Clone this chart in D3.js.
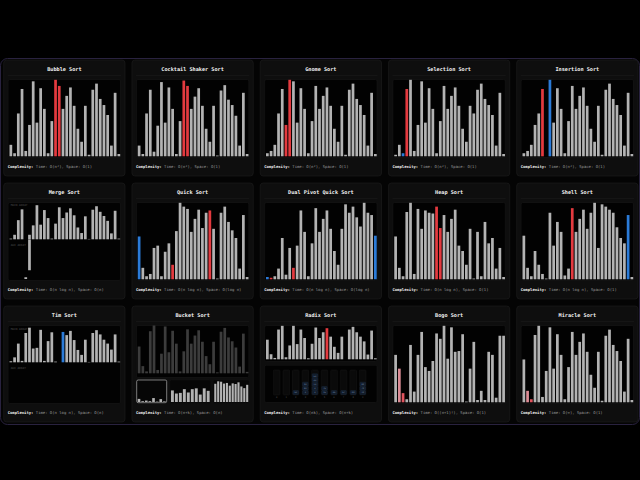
<!DOCTYPE html>
<html><head><meta charset="utf-8">
<script src="https://cdn.jsdelivr.net/npm/d3@7"></script>
<style>body{margin:0;background:#000;overflow:hidden}</style>
</head><body>
<svg id="c" width="640" height="480"></svg>
<script>
// ---------- DATA ----------
const algorithms = ["Bubble Sort","Cocktail Shaker Sort","Gnome Sort","Selection Sort","Insertion Sort",
  "Merge Sort","Quick Sort","Dual Pivot Quick Sort","Heap Sort","Shell Sort",
  "Tim Sort","Bucket Sort","Radix Sort","Bogo Sort","Miracle Sort"];
const complexities = ["Time: O(n²), Space: O(1)","Time: O(n²), Space: O(1)","Time: O(n²), Space: O(1)",
  "Time: O(n²), Space: O(1)","Time: O(n²), Space: O(1)",
  "Time: O(n log n), Space: O(n)","Time: O(n log n), Space: O(log n)","Time: O(n log n), Space: O(log n)",
  "Time: O(n log n), Space: O(1)","Time: O(n log n), Space: O(1)",
  "Time: O(n log n), Space: O(n)","Time: O(n+k), Space: O(n)","Time: O(nk), Space: O(n+k)",
  "Time: O((n+1)!), Space: O(1)","Time: O(∞), Space: O(1)"];

const bubbleValues    = [15,4,56,88,7,41,98,44,89,62,4,46,100,92,62,79,90,66,36,19,66,2,87,95,75,67,54,14,83,3];
const bubbleRed = [12,13];
const cocktailValues  = [14,3,56,87,6,40,97,44,90,62,3,46,99,92,62,78,89,66,36,19,66,1,86,93,74,67,53,14,83,3];
const cocktailRed = [12,13];
const gnomeValues     = [4,7,15,56,88,41,100,98,44,89,62,4,46,92,62,79,90,66,36,19,66,2,87,95,75,67,54,14,83,3];
const gnomeRed = [5,6];
const selectionValues = [2,15,4,88,100,7,41,98,44,89,62,4,46,92,62,79,90,66,36,19,66,56,87,95,75,67,54,14,83,3];
const selectionRed = [3], selectionBlue = [2];
const insertionValues = [4,7,15,41,56,88,0,100,44,89,62,4,46,92,62,79,90,66,36,19,66,2,87,95,75,67,54,14,83,3];
const insertionRed = [5], insertionBlue = [7];
const mergeMain = [2,13,55,86,0,13,40,98,42,84,61,2,45,92,61,77,89,69,34,18,66,1,85,95,79,67,53,17,82,2];
const mergeAux = [{index:4, lo:0, hi:5},{index:5, lo:25, hi:113}];
const quickValues = [56,15,4,7,41,44,4,36,47,19,63,100,95,92,62,79,91,67,87,90,66,1,87,95,75,64,54,14,84,3];
const quickRed = [9,19], quickBlue = [0];
const dualValues = [3,2,4,14,54,6,41,15,44,90,62,4,47,93,62,79,90,66,37,19,66,98,87,95,81,69,100,87,84,57];
const dualRed = [1,7], dualBlue = [0,29];
const heapValues = [56,15,4,88,100,7,92,66,90,87,86,95,67,84,62,79,91,44,37,19,66,1,62,4,75,47,54,14,41,3];
const heapRed = [11,12];
const shellValues = [57,15,4,37,19,7,1,87,44,75,62,5,14,93,62,79,91,66,87,100,41,98,95,91,87,68,54,47,84,3];
const shellRed = [13], shellBlue = [28];
const timMain = [3,14,53,4,83,98,39,41,92,4,60,85,2,0,86,77,89,63,35,21,64,1,83,91,79,64,53,36,79,2];
const timBlue = [14];
const bucketSource = [56,15,4,88,100,7,41,98,44,89,62,4,46,92,62,79,90,66,36,19,66,2,87,95,75,67,54,14,83,3];
const bucketLow  = [15,4,7,4,19,2,14,3];
const bucketMid  = [56,41,44,62,46,62,66,36,66,54];
const bucketHigh = [88,100,98,89,92,79,90,87,95,75,67,83];
const radixValues = [58,15,4,88,99,6,41,99,45,88,63,3,46,94,63,80,92,67,37,19,67,0,88,96,80,67,53,14,85,3];
const radixRed = [16];
const radixDigits = ["0","1","2","3","4","5","6","7","8","9"];
const radixBuckets = [[],[],["62"],["3","83","93"],["4","4","14","44","54"],["15","75"],["46"],["67"],["88"],["19","79","89"]];
const bogoValues = [62,44,12,4,75,14,62,92,46,41,54,90,83,100,57,98,66,67,89,1,44,79,3,15,3,66,62,6,87,87];
const bogoPink = [1], bogoRed = [2];
const miracleValues = [56,15,4,88,100,7,41,98,44,89,62,4,46,92,62,79,90,66,36,19,66,2,87,95,75,67,54,14,83,3];
const miraclePink = [1], miracleRed = [2];

// ---------- STYLE ----------
const GRAY="#b3b3b3", RED="#e33a3f", BLUE="#2b7bd8", PINK="#db8c95", REDP="#e0545e", DIM="#3c3c3c";
const FONT="'DejaVu Sans Mono', monospace";
const PX0=3.7, PY0=60, PITCHX=128.25, PITCHY=123, PW=121.3, PH=116;

const svg = d3.select("#c");
svg.append("rect").attr("width",640).attr("height",480).attr("fill","#000");
svg.append("rect").attr("x",0.5).attr("y",58.5).attr("width",639).attr("height",366).attr("rx",7)
  .attr("fill","#040404").attr("stroke","#29223f").attr("stroke-width",1);

function colorer(red=[],blue=[],pink=[],redp=[]){
  return i => red.includes(i)?RED: blue.includes(i)?BLUE: pink.includes(i)?PINK: redp.includes(i)?REDP: GRAY;
}
function drawBars(g, values, x0, x1, yBase, yTop, col){
  const x = d3.scaleBand().domain(d3.range(values.length)).range([x0,x1]).paddingInner(0.27).paddingOuter(0);
  const y = d3.scaleLinear().domain([0,100]).range([yBase,yTop]);
  g.selectAll(null).data(values).enter().append("rect")
    .attr("x",(d,i)=>x(i)).attr("width",x.bandwidth())
    .attr("y",d=>y(d)).attr("height",d=>Math.max(0,yBase-y(d)))
    .attr("fill",(d,i)=>col(i));
  return {x,y};
}
function chartBox(g,x,y,w,h){
  g.append("rect").attr("x",x).attr("y",y).attr("width",w).attr("height",h).attr("rx",1.5)
    .attr("fill","#020202").attr("stroke","#1a1a1a").attr("stroke-width",0.5);
}
function label(g,x,y,t){
  g.append("text").attr("x",x).attr("y",y).attr("font-family",FONT).attr("font-size",2.8)
    .attr("fill","#4a4a4a").text(t);
}

const specs = [
  {values:bubbleValues, col:colorer(bubbleRed)},
  {values:cocktailValues, col:colorer(cocktailRed)},
  {values:gnomeValues, col:colorer(gnomeRed)},
  {values:selectionValues, col:colorer(selectionRed,selectionBlue)},
  {values:insertionValues, col:colorer(insertionRed,insertionBlue)},
  {kind:"merge"},
  {values:quickValues, col:colorer(quickRed,quickBlue)},
  {values:dualValues, col:colorer(dualRed,dualBlue)},
  {values:heapValues, col:colorer(heapRed)},
  {values:shellValues, col:colorer(shellRed,shellBlue)},
  {kind:"tim"},
  {kind:"bucket"},
  {kind:"radix"},
  {values:bogoValues, col:colorer([],[],bogoPink,bogoRed)},
  {values:miracleValues, col:colorer([],[],miraclePink,miracleRed)}
];

specs.forEach((s,i)=>{
  const px = PX0 + (i%5)*PITCHX, py = PY0 + Math.floor(i/5)*PITCHY;
  const g = svg.append("g");
  g.append("rect").attr("x",px).attr("y",py).attr("width",PW).attr("height",PH).attr("rx",3)
    .attr("fill","#0e0e0e").attr("stroke","#1e1e1e").attr("stroke-width",0.6);
  g.append("text").attr("x",px+PW/2).attr("y",py+10.9).attr("text-anchor","middle")
    .attr("font-family",FONT).attr("font-weight","bold").attr("font-size",5.2).attr("fill","#f2f2f2")
    .text(algorithms[i]);
  g.append("line").attr("x1",px+4).attr("x2",px+PW-4).attr("y1",py+15.5).attr("y2",py+15.5)
    .attr("stroke","#1c1c1c").attr("stroke-width",0.5);
  const t = g.append("text").attr("x",px+4).attr("y",py+108).attr("font-family",FONT).attr("font-size",3.9);
  t.append("tspan").attr("font-weight","bold").attr("fill","#f0f0f0").text("Complexity: ");
  t.append("tspan").attr("fill","#9a9a9a").text(complexities[i]);

  const bx = px+4.5, bw = PW-9, by = py+19.5, bh = 78;
  const x0 = bx+1.3, x1 = bx+bw-0.3;
  if(!s.kind){
    chartBox(g,bx,by,bw,bh);
    drawBars(g, s.values, x0, x1, py+96.3, by+0.3, s.col);
  } else if(s.kind==="merge"){
    chartBox(g,bx,by,bw,bh);
    label(g,bx+2.5,py+23.3,"MAIN ARRAY");
    label(g,bx+2.5,py+63.3,"AUX ARRAY");
    const m = drawBars(g, mergeMain, x0, x1, py+56.3, py+21.5, colorer());
    const ya = d3.scaleLinear().domain([0,100]).range([py+96,py+61]);
    g.selectAll(null).data(mergeAux).enter().append("rect")
      .attr("x",d=>m.x(d.index)).attr("width",m.x.bandwidth())
      .attr("y",d=>ya(d.hi)).attr("height",d=>ya(d.lo)-ya(d.hi)).attr("fill",GRAY);
  } else if(s.kind==="tim"){
    chartBox(g,bx,by,bw,bh);
    label(g,bx+2.5,py+23.7,"MAIN ARRAY");
    label(g,bx+2.5,py+63,"AUX ARRAY");
    drawBars(g, timMain, x0, x1, py+56.3, py+21, colorer([],timBlue));
  } else if(s.kind==="bucket"){
    chartBox(g,bx,by,bw,52);
    drawBars(g, bucketSource, x0, x1, py+67.3, py+19.5, ()=>DIM);
    const boxes = [[px+4.75,30,bucketLow,true],[px+38,40.7,bucketMid,false],[px+81.3,36,bucketHigh,false]];
    boxes.forEach(([bx2,w2,vals,hl])=>{
      g.append("rect").attr("x",bx2).attr("y",py+74).attr("width",w2).attr("height",22.7).attr("rx",1.5)
        .attr("fill","#060606").attr("stroke",hl?"#c8c8c8":"#141414").attr("stroke-width",hl?0.6:0.4);
      drawBars(g, vals, bx2+1, bx2+w2-1, py+96, py+75.3, ()=>GRAY);
    });
  } else if(s.kind==="radix"){
    chartBox(g,bx,by,bw,36);
    drawBars(g, radixValues, x0, x1, py+53.3, py+19.5, colorer(radixRed));
    chartBox(g,bx,py+59.3,bw,37.2);
    const xc = d3.scalePoint().domain(radixDigits).range([px+16.5,px+102.5]);
    radixDigits.forEach((dg,k)=>{
      const cx = xc(dg);
      g.append("rect").attr("x",cx-3.3).attr("y",py+64).attr("width",6.6).attr("height",25).attr("rx",0.8)
        .attr("fill","#0a0a0a").attr("stroke","#1c1c1c").attr("stroke-width",0.4);
      g.append("text").attr("x",cx).attr("y",py+92.3).attr("text-anchor","middle").attr("font-family",FONT)
        .attr("font-size",2.4).attr("fill","#4d4d4d").text(dg);
      radixBuckets[k].forEach((v,j)=>{
        const yy = py+84.6 - j*4.2;
        g.append("rect").attr("x",cx-2.8).attr("y",yy).attr("width",5.6).attr("height",3.8).attr("rx",0.5)
          .attr("fill","#121c2a").attr("stroke","#263a55").attr("stroke-width",0.3);
        g.append("text").attr("x",cx).attr("y",yy+2.8).attr("text-anchor","middle").attr("font-family",FONT)
          .attr("font-size",2.2).attr("fill","#7189ab").text(v);
      });
    });
  }
});
</script>
</body></html>
